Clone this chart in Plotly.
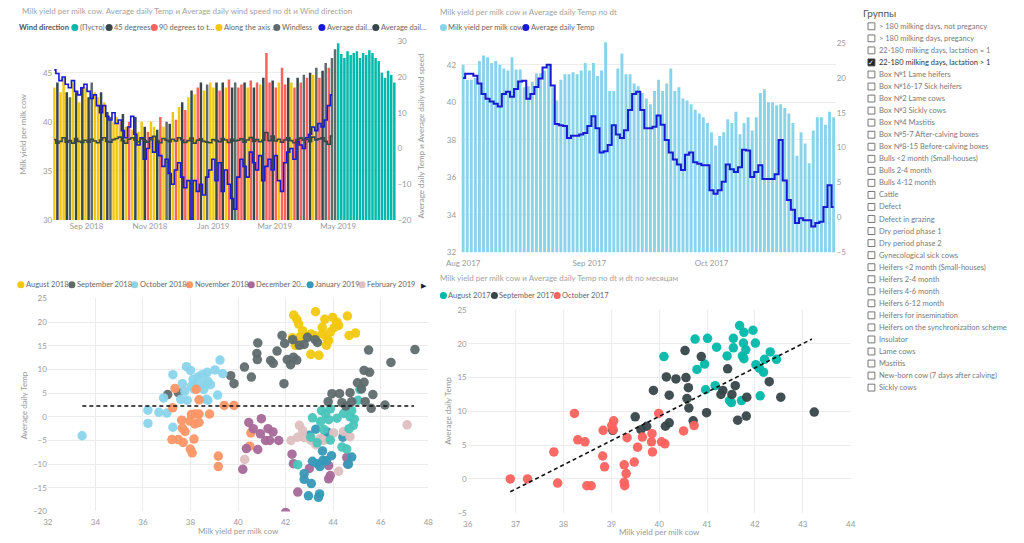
import plotly.graph_objects as go
import pandas as pd

W, H = 1024, 543
FONT = "Lato, Liberation Sans, sans-serif"
TICK = dict(family=FONT, size=8, color="#9a9a9a")

# ---------------- data: top-left (3-day samples from 2018-08-01) ----------------
TL_START = "2018-08-01"
tl_tick_vals = ["2018-09-01", "2018-11-01", "2019-01-01", "2019-03-01", "2019-05-01"]
tl_tick_text = ["Sep 2018", "Nov 2018", "Jan 2019", "Mar 2019", "May 2019"]
# wind direction code per bar: Y along the axis, D 45 degrees, R 90 degrees, G windless, T empty
tl_dir_codes = list(
    "YDYYDGYDYD" "YDGYYDYDGY" "YYDYRYDYYD" "RYYDRYGDYR" "YDRYDYRDYG"
    "YYDRDYRDGR" "RDYRDRYDRR" "DRYRRDYRDRG" "RDYGRDGRGG" "TTTTTTTTTTTTTTTTTTT"
)
tl_yield = [
    43.5, 44, 43, 44.5, 43, 42.5, 44, 43, 42, 43.5,
    43.5, 42.5, 44, 43, 42.5, 43, 42, 41, 40.5, 40,
    40.5, 40, 40.8, 39.5, 40, 39.2, 40.5, 39, 40, 39.5,
    39, 40, 39.5, 39.2, 40.5, 39.5, 40, 39.8, 41, 40.2,
    41.5, 42, 41.2, 42.5, 43.2, 42.8, 43.5, 44, 43.2, 43.8,
    44, 43.5, 44, 43.2, 44, 43.5, 44.3, 43.5, 44, 43.5,
    43.8, 44, 43.5, 44.2, 43.5, 44, 43.8, 44.5, 47, 44,
    44.2, 43.5, 44, 45.5, 43.8, 44.5, 44, 43.5, 44.5, 44, 44.8,
    44.5, 45, 44.8, 45.5, 44.5, 45.2, 46, 45.5, 46.5, 47.4,
    48, 46.9, 46.5, 47.2, 46.8, 47, 47.2, 46.5, 47, 46.8,
    47.3, 47, 46.5, 46.2, 45, 44.5, 45.2, 44.8, 44,
]
tl_temp = [
    22, 21, 19, 20, 18, 17, 19, 16, 15, 17,
    18, 16, 14, 15, 12, 10, 12, 9, 8, 10,
    7, 8, 5, 3, 6, 9, 4, 1, 3, -3,
    0, 3, -1, 2, -2, -5, -3, -7, -10, -6,
    -4, -8, -11, -9, -20, -9, -12, -10, -13, -8,
    -6, -3, -9, -4, -12, -6, -10, -14, -17, -8,
    -3, -5, -8, -1, -4, -6, -2, -9, -5, -3,
    -6, -2, -9, -12, -4, -1, 0, -3, 2, 1, 0,
    3, 4, 6, 5, 7, 6, 8, 12, 15,
]
tl_wind = [
    2.5, 1.5, 2.0, 3.0, 1.8, 2.2, 1.5, 2.8, 2.0, 1.7,
    2.3, 1.8, 2.6, 2.1, 1.6, 2.4, 3.0, 2.0, 1.8, 2.5,
    2.8, 3.2, 2.2, 1.5, 2.6, 3.0, 2.4, 1.9, 2.7, 2.2,
    1.8, 2.5, 3.4, 2.2, 1.6, 2.8, 2.3, 1.9, 2.6, 2.1,
    3.0, 2.4, 1.7, 2.2, 2.9, 1.5, 2.3, 2.7, 2.0, 1.8,
    1.6, 2.5, 2.2, 1.9, 2.8, 2.4, 1.7, 2.6, 2.1, 2.3,
    2.7, 1.8, 2.4, 3.1, 2.0, 2.5, 1.9, 2.3, 4.5, 2.2,
    3.5, 2.1, 2.6, 1.8, 2.4, 3.0, 2.2, 1.6, 2.5, 2.9, 2.3,
    2.6, 1.9, 3.2, 2.4, 2.7, 3.0, 2.0, 1.2, 3.5,
]

# ---------------- data: top-right (daily from 2017-08-01) ----------------
TR_START = "2017-08-01"
tr_tick_vals = ["2017-08-01", "2017-09-01", "2017-10-01"]
tr_tick_text = ["Aug 2017", "Sep 2017", "Oct 2017"]
tr_yield = [
    42.0, 41.2, 41.2, 41.3, 42.2, 42.5, 42.4, 42.1, 42.2, 42.0,
    41.8, 41.7, 42.4, 41.75, 41.75, 40.8, 40.85, 41.1, 41.55, 41.55,
    41.7, 42.0, 40.8, 40.1, 41.2, 41.5, 41.5, 41.6, 41.5, 41.7,
    42.1, 41.7, 42.1, 41.4, 41.7, 43.3, 40.6, 40.6, 41.8, 42.6,
    41.5, 41.5, 41.0, 40.85, 40.5, 40.2, 39.9, 40.6, 41.2, 40.6,
    41.0, 41.8, 40.6, 40.8, 40.2, 40.1, 39.9, 39.6, 39.4, 39.2,
    38.9, 38.4, 37.7, 38.2, 38.4, 39.1, 38.9, 39.5, 38.3, 38.9,
    39.2, 38.5, 39.2, 40.5, 40.7, 40.0, 40.0, 39.85, 39.9, 39.7,
    39.4, 38.9, 37.15, 38.4, 37.8, 36.75, 38.5, 39.2, 39.2, 38.8, 39.5, 39.2,
]
tr_temp = [
    20.0, 20.6, 20.6, 20.3, 19.2, 17.7, 17.0, 16.6, 16.3, 15.9,
    17.7, 18.0, 17.3, 18.4, 19.5, 19.6, 17.0, 17.7, 18.7, 19.9,
    21.5, 21.9, 18.9, 13.4, 13.2, 13.1, 11.4, 11.7, 11.7, 11.9,
    12.1, 13.1, 14.5, 12.8, 9.3, 9.5, 10.4, 13.2, 11.9, 11.4,
    12.5, 15.4, 17.7, 18.0, 15.4, 12.8, 12.8, 13.0, 14.6, 13.3,
    11.1, 9.3, 8.3, 7.6, 6.8, 9.0, 9.3, 7.9, 7.7, 7.5,
    7.5, 3.9, 3.4, 3.9, 5.1, 7.6, 6.9, 6.5, 7.2, 9.7,
    9.6, 5.8, 6.5, 7.5, 5.5, 5.5, 5.5, 6.2, 11.1, 5.3,
    2.5, 1.1, -0.8, -0.1, -0.4, -0.4, -1.3, -0.8, -0.6, 1.5,
    4.6, 1.5,
]

# ---------------- data: bottom-left scatter (by month) ----------------
bl_months = ["August 2018", "September 2018", "October 2018", "November 2018", "December 2018",
             "January 2019", "February 2019", "March 2019", "April 2019"]
bl_legend_labels = ["August 2018", "September 2018", "October 2018", "November 2018", "December 20...",
                    "January 2019", "February 2019"]
bl_x = [
    [42.34, 42.47, 42.55, 43.26, 43.65, 43.98, 44.16, 44.05, 44.6, 44.94, 44.67, 42.71, 43.06, 43.54,
     43.74, 43.72, 43.4, 43.06, 43.81, 43.2, 42.58, 42.28, 42.41, 44.23, 43.88, 43.54, 44.16],
    [41.85, 41.96, 42.3, 42.58, 42.78, 42.92, 43.24, 43.34, 40.83, 40.79, 40.81, 41.64, 41.37, 41.48,
     42.07, 42.21, 42.33, 42.47, 40.27, 40.56, 39.69, 39.83, 41.93, 37.04, 37.49],
    [37.26, 37.83, 38.0, 37.66, 38.11, 38.31, 38.49, 38.7, 38.73, 38.56, 38.84, 39.03, 39.24, 39.36,
     38.22, 38.04, 38.15, 38.56, 39.14, 36.87, 38.66, 37.59, 36.21, 36.21, 36.67, 37.01, 37.26, 33.44,
     37.76, 37.86, 38.73],
    [37.35, 38.24, 38.36, 37.25, 37.63, 37.66, 37.77, 37.22, 37.49, 37.69, 37.99, 38.07, 38.15, 38.04,
     38.2, 38.36, 37.97, 38.18, 38.36, 38.8, 39.17, 39.17, 39.42, 39.83, 40.54, 40.49],
    [40.45, 40.64, 40.98, 40.94, 41.16, 41.26, 41.47, 41.33, 41.71, 40.83, 40.35, 40.2, 42.27, 42.33,
     43.0, 42.51, 42.0, 43.81, 43.88, 43.81, 44.57, 44.61],
    [42.78, 42.78, 43.08, 42.96, 43.38, 43.43, 43.13, 43.33, 43.57, 43.44, 43.71, 43.93, 43.55, 43.61,
     43.27, 44.41, 44.64, 44.78, 43.75, 43.0],
    [42.23, 42.58, 42.72, 42.78, 42.51, 43.06, 43.27, 43.61, 44.23, 47.11, 40.28, 44.44, 44.71, 44.02,
     43.47],
    [43.51, 43.68, 43.88, 44.16, 44.44, 44.71, 44.89, 44.78, 43.81, 43.61, 43.13, 43.06, 43.33, 43.88,
     44.37, 44.57, 44.67, 45.05, 45.12, 43.47, 42.51, 44.85],
    [43.79, 43.95, 44.27, 44.71, 44.37, 44.78, 45.35, 45.6, 46.18, 45.67, 44.53, 45.49, 47.44, 46.43,
     45.3, 45.53, 45.02, 45.3, 45.19],
]
bl_y = [
    [21.5, 20.6, 19.6, 22.2, 20.6, 21.0, 20.0, 18.9, 21.3, 17.7, 17.2, 18.2, 17.5, 18.9, 16.5, 15.1,
     13.0, 13.2, 16.1, 17.2, 16.8, 16.7, 15.1, 19.3, 17.9, 17.5, 19.6],
    [17.2, 15.5, 16.3, 15.1, 15.3, 16.8, 16.3, 15.7, 15.6, 13.4, 12.1, 13.9, 11.9, 11.3, 12.1, 11.0,
     12.6, 12.0, 10.5, 8.4, 8.7, 7.0, 7.0, 4.7, 5.1],
    [8.9, 10.6, 9.8, 7.0, 7.9, 8.4, 8.9, 9.4, 7.5, 7.0, 6.8, 9.9, 12.0, 9.1, 6.8, 6.5, 5.9, 5.8, 4.6,
     4.0, 3.7, 3.7, 1.4, -1.4, 0.95, 0.8, -2.2, -4.0, 5.4, 3.5, 3.5],
    [6.0, 5.8, 3.6, 1.9, -0.7, -2.4, -3.1, -4.8, -4.8, -5.4, -6.8, -7.6, -4.7, 0.5, 0.6, 0.6, -0.9,
     -1.5, -1.2, 0.6, -8.3, -10.5, 2.4, 2.4, -3.4, -6.2],
    [-1.2, -2.5, -0.4, -3.6, -5.0, -2.5, -3.2, -5.0, -5.0, -6.9, -6.7, -11.1, -7.9, -9.9, -10.9,
     -15.9, -20.2, -10.3, -12.4, -13.1, -8.6, -10.0],
    [-12.0, -13.2, -14.1, -16.7, -17.0, -16.3, -9.4, -9.9, -9.2, -10.5, -9.3, -8.2, -7.2, -4.3, -2.6,
     -4.3, -10.0, -8.5, -3.2, -3.9],
    [-5.0, -1.8, -2.9, -4.4, -4.3, -5.0, -5.9, -5.0, -11.5, -1.7, -9.0, -3.1, -4.2, -3.4, -4.5],
    [1.3, 0.6, 1.7, -0.3, 0.7, 0.0, -0.5, 1.3, -0.6, -2.7, -0.2, -4.3, -5.5, -4.9, -6.4, -6.8, -2.5,
     3.5, 5.8, -1.0, -10.1, -1.8],
    [3.2, 4.9, 4.9, 5.1, 3.0, 3.2, 3.2, 1.8, 2.5, 4.7, 2.3, 14.1, 14.2, 11.5, 9.8, 9.4, 7.2, 7.3, 5.9],
]
bl_trend_x = [33.45, 47.4]
bl_trend_y = [2.3, 2.3]

# ---------------- data: bottom-right scatter (by month) ----------------
br_months = ["August 2017", "September 2017", "October 2017"]
br_x = [
    [41.68, 41.96, 41.77, 40.75, 41.01, 41.55, 42.01, 41.76, 41.2, 41.55, 41.81, 40.1, 41.42, 41.74,
     41.77, 42.2, 42.32, 42.45, 42.02, 42.09, 40.95, 40.79, 42.18, 41.17, 40.97, 41.47, 41.51, 41.72,
     42.11],
    [40.54, 40.88, 40.15, 40.35, 40.56, 41.43, 40.61, 39.88, 40.21, 41.33, 41.29, 41.52, 41.59, 41.83,
     42.54, 42.3, 40.58, 40.62, 40.99, 43.24, 41.64, 41.82, 39.5, 39.62, 39.74, 40.21, 40.13, 40.71,
     39.03],
    [38.23, 39.99, 39.05, 39.01, 38.83, 39.04, 40.73, 40.51, 39.85, 39.33, 39.65, 38.3, 38.45, 39.84,
     40.05, 40.12, 39.55, 39.86, 37.8, 38.82, 39.48, 39.27, 38.86, 39.31, 36.89, 37.25, 37.88, 38.49,
     38.58, 39.27, 39.28],
]
br_y = [
    [22.7, 22.0, 21.7, 20.7, 20.8, 20.8, 20.1, 20.1, 19.5, 19.4, 19.1, 18.1, 18.2, 18.2, 17.8, 17.7,
     18.8, 17.7, 16.9, 16.4, 17.0, 16.2, 15.8, 13.8, 13.2, 11.6, 11.3, 11.6, 12.3],
    [19.0, 18.1, 15.1, 14.8, 15.0, 16.3, 13.5, 13.1, 12.4, 13.1, 12.5, 12.5, 13.8, 12.1, 12.1, 14.4,
     11.9, 10.5, 9.8, 9.9, 8.7, 9.3, 9.2, 7.3, 7.8, 8.3, 7.8, 8.6, 7.2],
    [9.7, 9.7, 8.6, 7.9, 7.2, 7.3, 7.9, 7.1, 6.7, 6.1, 6.2, 5.8, 5.5, 5.5, 5.5, 5.2, 4.7, 4.0, 4.0,
     3.4, 2.5, 2.1, 1.8, 0.8, 0.0, 0.0, -0.6, -1.0, -1.0, -0.5, -1.0],
]
br_trend_x = [36.89, 43.19]
br_trend_y = [-1.9, 20.7]

# ---------------- slicer ----------------
groups = [
    "> 180 milking days, not pregancy", "> 180 milking days, pregancy",
    "22-180 milking days, lactation = 1", "22-180 milking days, lactation > 1",
    "Box №1 Lame heifers", "Box №16-17 Sick heifers", "Box №2 Lame cows", "Box №3 Sickly cows",
    "Box №4 Mastitis", "Box №5-7 After-calving boxes", "Box №8-15 Before-calving boxes",
    "Bulls <2 month (Small-houses)", "Bulls 2-4 month", "Bulls 4-12 month", "Cattle", "Defect",
    "Defect in grazing", "Dry period phase 1", "Dry period phase 2", "Gynecological sick cows",
    "Heifers <2 month (Small-houses)", "Heifers 2-4 month", "Heifers 4-6 month", "Heifers 6-12 month",
    "Heifers for insemination", "Heifers on the synchronization scheme", "Insulator", "Lame cows",
    "Mastitis", "New-born cow (7 days after calving)", "Sickly cows",
]
selected_group = "22-180 milking days, lactation > 1"

# ---------------- styles ----------------
dir_order = ["T", "D", "R", "Y", "G"]
dir_names = {"T": "(Пусто)", "D": "45 degrees", "R": "90 degrees to the axis",
             "Y": "Along the axis", "G": "Windless"}
dir_colors = {"T": "#01B8AA", "D": "#374649", "R": "#FD625E", "Y": "#F2C80F", "G": "#5F6B6D"}
BLUE = "#1A1AD2"
bl_colors = ["#F2C80F", "#5F6B6D", "#8AD4EB", "#FE9666", "#A66999", "#3599B8", "#DFBFBF",
             "#4AC5BB", "#5F6B6D"]
br_colors = ["#01B8AA", "#374649", "#FD625E"]
DAY_MS = 86400000


def px(x):
    return x / W


def py(y):
    return 1 - y / H


fig = go.Figure()

# top-left: bars per wind direction
tl_dates = pd.date_range(TL_START, periods=len(tl_yield), freq="3D")
for code in dir_order:
    idx = [i for i, c in enumerate(tl_dir_codes) if c == code]
    fig.add_trace(go.Bar(
        x=[tl_dates[i] for i in idx], y=[tl_yield[i] for i in idx], name=dir_names[code],
        marker=dict(color=dir_colors[code], line=dict(width=0)), width=3 * DAY_MS * 0.8,
        xaxis="x", yaxis="y", showlegend=False))
tl_line_dates = pd.date_range(TL_START, periods=len(tl_temp), freq="3D")
fig.add_trace(go.Scatter(x=tl_line_dates, y=tl_temp, mode="lines", name="Average daily Temp",
                         line=dict(color=BLUE, width=1.6, shape="hvh"), xaxis="x", yaxis="y2",
                         showlegend=False))
fig.add_trace(go.Scatter(x=tl_line_dates, y=tl_wind, mode="lines", name="Average daily wind speed",
                         line=dict(color="#374649", width=1.6, shape="hvh"), xaxis="x", yaxis="y2",
                         showlegend=False))

# top-right
tr_dates = pd.date_range(TR_START, periods=len(tr_yield), freq="D")
fig.add_trace(go.Bar(x=tr_dates, y=tr_yield, name="Milk yield per milk cow",
                     marker=dict(color="#8AD4EB", line=dict(width=0)), width=DAY_MS * 0.72,
                     xaxis="x2", yaxis="y3", showlegend=False))
fig.add_trace(go.Scatter(x=tr_dates, y=tr_temp, mode="lines", name="Average daily Temp",
                         line=dict(color=BLUE, width=2, shape="hvh"), xaxis="x2", yaxis="y4",
                         showlegend=False))

# bottom-left scatter
for name, xs, ys, c in zip(bl_months, bl_x, bl_y, bl_colors):
    fig.add_trace(go.Scatter(x=xs, y=ys, mode="markers", name=name,
                             marker=dict(color=c, size=9.5, opacity=0.95, line=dict(width=0)),
                             xaxis="x3", yaxis="y5", showlegend=False))
fig.add_trace(go.Scatter(x=bl_trend_x, y=bl_trend_y, mode="lines", name="trend",
                         line=dict(color="#111", width=1.6, dash="4px,3px"),
                         xaxis="x3", yaxis="y5", showlegend=False))

# bottom-right scatter
for name, xs, ys, c in zip(br_months, br_x, br_y, br_colors):
    fig.add_trace(go.Scatter(x=xs, y=ys, mode="markers", name=name,
                             marker=dict(color=c, size=9.5, opacity=0.95, line=dict(width=0)),
                             xaxis="x4", yaxis="y6", showlegend=False))
fig.add_trace(go.Scatter(x=br_trend_x, y=br_trend_y, mode="lines", name="trend",
                         line=dict(color="#111", width=1.6, dash="4px,3px"),
                         xaxis="x4", yaxis="y6", showlegend=False))

GRID = "#ececec"
ax_common = dict(tickfont=TICK, zeroline=False, showline=False, ticks="", fixedrange=True)

layout = dict(
    width=W, height=H, autosize=False, margin=dict(l=0, r=0, t=0, b=0),
    paper_bgcolor="white", plot_bgcolor="white", barmode="overlay", hovermode=False,
    font=dict(family=FONT, size=8, color="#999"),
    xaxis=dict(domain=[px(39), px(389)], anchor="y", type="date",
               range=["2018-07-31", "2019-06-26"], tickvals=tl_tick_vals, ticktext=tl_tick_text,
               showgrid=False, **ax_common),
    yaxis=dict(domain=[py(219), py(37)], anchor="x", range=[30, 48.2], tickvals=[30, 35, 40, 45],
               showgrid=True, gridcolor=GRID, **ax_common),
    yaxis2=dict(overlaying="y", anchor="x", side="right", range=[-20, 30],
                tickvals=[-20, -10, 0, 10, 20, 30], showgrid=False, **ax_common),
    xaxis2=dict(domain=[px(455), px(837)], anchor="y3", type="date",
                range=["2017-07-31 12:00", "2017-10-31 12:00"], tickvals=tr_tick_vals,
                ticktext=tr_tick_text, showgrid=False, ticklabelstandoff=5, **ax_common),
    yaxis3=dict(domain=[py(252), py(38)], anchor="x2", range=[32, 43.2],
                tickvals=[32, 34, 36, 38, 40, 42], showgrid=True, gridcolor=GRID,
                ticklabelstandoff=4, **ax_common),
    yaxis4=dict(overlaying="y3", anchor="x2", side="right", range=[-5, 25.1],
                tickvals=[-5, 0, 5, 10, 15, 20, 25], showgrid=False, **ax_common),
    xaxis3=dict(domain=[px(33.5), px(421.5)], anchor="y5", range=[32, 48], dtick=2,
                showgrid=True, gridcolor=GRID, ticklabelstandoff=5, **ax_common),
    yaxis5=dict(domain=[py(516), py(299)], anchor="x3", range=[-20, 25], dtick=5,
                showgrid=True, gridcolor=GRID, **ax_common),
    xaxis4=dict(domain=[px(461.7), px(852.3)], anchor="y6", range=[36, 44], dtick=1,
                showgrid=True, gridcolor=GRID, ticklabelstandoff=5, **ax_common),
    yaxis6=dict(domain=[py(517.3), py(310.7)], anchor="x4", range=[-5, 25], dtick=5,
                showgrid=True, gridcolor=GRID, **ax_common),
)
fig.update_layout(**layout)

annotations = []
shapes = []


def ann(x, y, text, size=8, color="#999", xanchor="left", angle=0):
    annotations.append(dict(x=px(x), y=py(y), xref="paper", yref="paper", text=text,
                            showarrow=False, xanchor=xanchor, yanchor="middle", textangle=angle,
                            borderpad=0, font=dict(family=FONT, size=size, color=color)))


def esc(s):
    return s.replace("<", "&lt;").replace(">", "&gt;")


def legend_item(x, y, label, color, size=7.5):
    r = 3.6
    shapes.append(dict(type="circle", xref="paper", yref="paper", x0=px(x - r), x1=px(x + r),
                       y0=py(y + r), y1=py(y - r), fillcolor=color, line=dict(width=0)))
    ann(x + r + 0.5, y, label, size=size, color="#666")


# titles
ann(6, 6, "Milk yield per milk cow. Average daily Temp и Average daily wind speed по dt и Wind direction",
    size=8, color="#a3a3a3")
ann(432, 7, "Milk yield per milk cow и Average daily Temp по dt", size=8, color="#a3a3a3")
ann(432, 278, "Milk yield per milk cow и Average daily Temp по dt и dt по месяцам", size=8,
    color="#a3a3a3")

# legends (top-left)
ann(3, 23, "<b>Wind direction</b>", size=7.5, color="#555")
tl_leg = [("(Пусто)", dir_colors["T"], 61), ("45 degrees", dir_colors["D"], 96),
          ("90 degrees to t...", dir_colors["R"], 142), ("Along the axis ...", dir_colors["Y"], 208),
          ("Windless", dir_colors["G"], 267), ("Average dail...", BLUE, 313),
          ("Average dail...", "#374649", 368)]
for lab, c, x in tl_leg:
    legend_item(x, 23, lab, c)
# legend (top-right)
for lab, c, x in [("Milk yield per milk cow", "#8AD4EB", 437), ("Average daily Temp", BLUE, 521)]:
    legend_item(x, 23, lab, c)
# legend (bottom-left)
bl_leg_x = [6, 58, 122, 178, 241, 301, 354]
for lab, c, x in zip(bl_legend_labels, bl_colors, bl_leg_x):
    legend_item(x, 285, lab, c)
ann(417, 285, "▶", size=7, color="#222", xanchor="center")
# legend (bottom-right)
for lab, c, x in zip(br_months, br_colors, [437, 489, 553]):
    legend_item(x, 296, lab, c)

# axis titles
ann(8, 131, "Milk yield per milk cow", size=8, color="#999", xanchor="center", angle=-90)
ann(414, 133, "Average daily Temp и Average daily wind speed", size=8, color="#999",
    xanchor="center", angle=-90)
ann(10, 408, "Average daily Temp", size=8, color="#999", xanchor="center", angle=-90)
ann(228, 536, "Milk yield per milk cow", size=8, color="#999", xanchor="center")
ann(442, 413, "Average daily Temp", size=8, color="#999", xanchor="center", angle=-90)
ann(657, 537, "Milk yield per milk cow", size=8, color="#999", xanchor="center")

# slicer
ann(864, 8, "Группы", size=10, color="#555")
for i, g in enumerate(groups):
    yc = 21.7 + i * 12.27
    sel = g == selected_group
    shapes.append(dict(type="rect", xref="paper", yref="paper", x0=px(870), x1=px(877),
                       y0=py(yc + 3.5), y1=py(yc - 3.5),
                       line=dict(color="#444" if sel else "#777", width=1),
                       fillcolor="#222" if sel else "white"))
    if sel:
        ann(873.5, yc, "✓", size=7, color="white", xanchor="center")
    ann(880, yc, esc(g), size=7.5, color="#333" if sel else "#7a7a7a")

fig.update_layout(annotations=annotations, shapes=shapes)

fig.write_html("out.html", config={"displayModeBar": False, "staticPlot": True},
               post_script="document.body.style.margin='0';")
